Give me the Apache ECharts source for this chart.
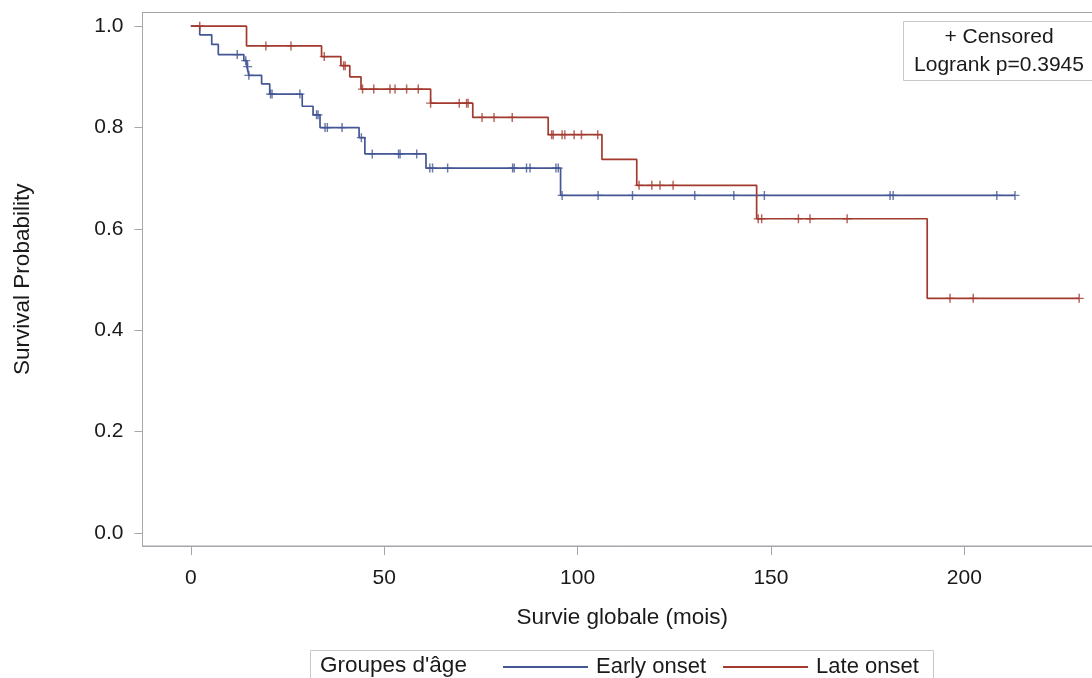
<!DOCTYPE html>
<html>
<head>
<meta charset="utf-8">
<script src="https://cdn.jsdelivr.net/npm/echarts@6/dist/echarts.min.js"></script>
<style>
  html, body { margin: 0; padding: 0; background: #fff; }
  #chart { width: 1092px; height: 678px; }
</style>
</head>
<body>
<div id="chart"></div>
<script>
// Kaplan-Meier steps (time in months, survival after the event)
var earlyTimes = [0, 2.3, 5.4, 7.1, 13.7, 14.5, 15.0, 18.3, 20.4, 28.8, 31.6, 33.4, 43.5, 45.0, 60.8, 95.6, 213.1];
var earlySurv  = [1.0, 0.983, 0.964, 0.944, 0.932, 0.92, 0.903, 0.886, 0.866, 0.842, 0.825, 0.80, 0.78, 0.748, 0.72, 0.666, 0.666];
var lateTimes  = [0, 14.4, 33.8, 38.8, 41.1, 44.0, 62.0, 72.9, 92.4, 106.3, 115.3, 146.3, 190.4, 229.7];
var lateSurv   = [1.0, 0.961, 0.940, 0.922, 0.90, 0.876, 0.848, 0.82, 0.786, 0.737, 0.686, 0.62, 0.463, 0.463];

// censored observations (months)
var earlyCensored = [12.0, 14.2, 14.7, 15.0, 20.6, 21.0, 28.2, 32.5, 32.9, 34.7, 35.3, 39.1, 44.1, 46.9, 53.7, 54.1,
  58.4, 61.8, 62.5, 66.4, 83.2, 83.6, 86.8, 87.7, 94.4, 95.0, 96.0, 105.3, 114.2, 130.3, 140.4, 148.3,
  180.8, 181.6, 208.4, 213.1];
var lateCensored = [2.3, 19.4, 25.9, 34.5, 39.5, 39.9, 44.4, 47.3, 51.5, 52.8, 55.8, 58.8, 62.0, 69.4, 71.3, 71.7,
  75.3, 78.4, 83.1, 93.3, 93.7, 96.0, 96.7, 99.1, 101.0, 105.2, 115.9, 119.2, 121.3, 124.7, 146.7, 147.6,
  157.1, 160.1, 169.7, 196.3, 202.3, 229.7];

var groups = ['Early onset', 'Late onset'];
var xTicks = [0, 50, 100, 150, 200];
var yTicks = [0, 0.2, 0.4, 0.6, 0.8, 1.0];
var pValue = '0.3945';

var blue = '#445694';
var red = '#A23A2E';
var frame = '#a3a7ab';
var txt = '#1a1a1a';
var font = '"Liberation Sans", Arial, sans-serif';
var plus = 'path://M4.2,0H5.8V4.3H10V5.7H5.8V10H4.2V5.7H0V4.3H4.2Z';

function pairs(xs, ys) {
  return xs.map(function (x, i) { return [x, ys[i]]; });
}

// survival level of the step curve at time t
function levelAt(times, surv, t) {
  var s = surv[0];
  for (var i = 0; i < times.length; i++) {
    if (times[i] <= t + 1e-9) s = surv[i];
  }
  return s;
}

function censorPoints(cens, times, surv) {
  return cens.map(function (t) { return [t, levelAt(times, surv, t)]; });
}

var myChart = echarts.init(document.getElementById('chart'));

var option = {
  animation: false,
  textStyle: { fontFamily: font, color: txt },
  grid: {
    left: 142.5, top: 12.5, right: -10, bottom: 132,
    show: true, borderColor: frame, borderWidth: 1,
    containLabel: false, outerBoundsMode: 'none'
  },
  xAxis: {
    type: 'value',
    min: -12.5,
    max: 235.6,
    name: 'Survie globale (mois)',
    nameLocation: 'middle',
    nameGap: 60,
    nameTextStyle: { fontSize: 22.5, color: txt, fontFamily: font },
    axisLine: { show: true, onZero: false, lineStyle: { color: frame, width: 1 } },
    axisTick: { show: true, length: 9, lineStyle: { color: frame }, customValues: xTicks },
    axisLabel: { fontSize: 21, color: txt, margin: 22, customValues: xTicks, fontFamily: font },
    splitLine: { show: false }
  },
  yAxis: {
    type: 'value',
    min: -0.0257,
    max: 1.027,
    name: 'Survival Probability',
    nameLocation: 'middle',
    nameRotate: 90,
    nameGap: 108,
    nameTextStyle: { fontSize: 22.5, color: txt, fontFamily: font },
    axisLine: { show: true, onZero: false, lineStyle: { color: frame, width: 1 } },
    axisTick: { show: true, length: 8, lineStyle: { color: frame }, customValues: yTicks },
    axisLabel: {
      fontSize: 21, color: txt, margin: 19, customValues: yTicks, fontFamily: font,
      formatter: function (v) { return v.toFixed(1); }
    },
    splitLine: { show: false }
  },
  legend: {
    data: groups,
    left: 498,
    top: 651,
    itemWidth: 85,
    itemHeight: 2,
    itemGap: 17,
    icon: 'rect',
    textStyle: { fontSize: 22, color: txt, fontFamily: font, padding: [0, 0, 0, 3] }
  },
  graphic: [
    {
      type: 'rect', silent: true,
      shape: { x: 903.5, y: 21.5, width: 200, height: 59 },
      style: { fill: '#fff', stroke: '#c8c8c8', lineWidth: 1 }
    },
    {
      type: 'text', silent: true, x: 999, y: 37,
      style: { text: '+ Censored', font: '21px ' + font, fill: txt, align: 'center', verticalAlign: 'middle' }
    },
    {
      type: 'text', silent: true, x: 999, y: 65,
      style: { text: 'Logrank p=' + pValue, font: '21px ' + font, fill: txt, align: 'center', verticalAlign: 'middle' }
    },
    {
      type: 'rect', silent: true,
      shape: { x: 310.5, y: 650.5, width: 623, height: 40 },
      style: { fill: 'none', stroke: '#c8c8c8', lineWidth: 1 }
    },
    {
      type: 'text', silent: true, x: 320, y: 666,
      style: { text: "Groupes d'âge", font: '22.5px ' + font, fill: txt, align: 'left', verticalAlign: 'middle' }
    }
  ],
  series: [
    {
      name: groups[0], type: 'line', step: 'end', showSymbol: false, symbol: 'none',
      data: pairs(earlyTimes, earlySurv),
      lineStyle: { color: blue, width: 1.7 }, itemStyle: { color: blue }, z: 3
    },
    {
      name: groups[1], type: 'line', step: 'end', showSymbol: false, symbol: 'none',
      data: pairs(lateTimes, lateSurv),
      lineStyle: { color: red, width: 1.7 }, itemStyle: { color: red }, z: 4
    },
    {
      name: 'early censored', type: 'scatter', symbol: plus, symbolSize: 9,
      data: censorPoints(earlyCensored, earlyTimes, earlySurv),
      itemStyle: { color: blue }, z: 5
    },
    {
      name: 'late censored', type: 'scatter', symbol: plus, symbolSize: 9,
      data: censorPoints(lateCensored, lateTimes, lateSurv),
      itemStyle: { color: red }, z: 6
    }
  ]
};

myChart.setOption(option);
</script>
</body>
</html>
